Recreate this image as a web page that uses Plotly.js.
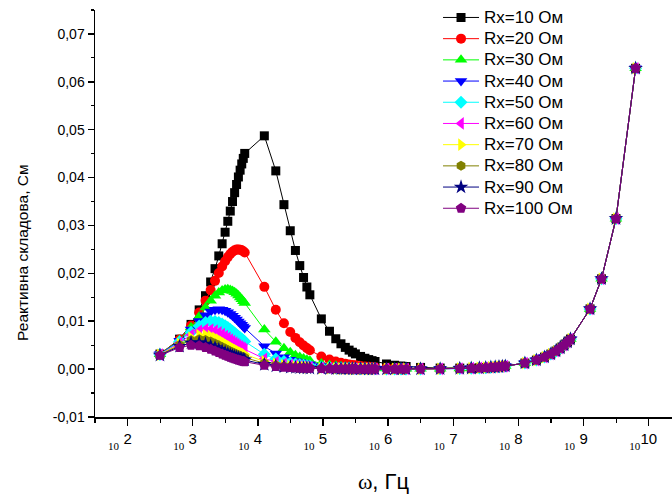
<!DOCTYPE html>
<html>
<head>
<meta charset="utf-8">
<script src="https://cdn.plot.ly/plotly-3.0.1.min.js"></script>
<style>html,body{margin:0;padding:0;background:#fff;}#chart{width:672px;height:494px;}</style>
</head>
<body>
<div id="chart"></div>
<script>
// angular frequency ω (rad/s) of every measured point, shared by all series
const omega = [314.2,628.3,942.5,1256.6,1570.8,1885.0,2199.1,2513.3,2827.4,3141.6,3455.8,3769.9,4084.1,4398.2,4712.4,5026.5,5340.7,5654.9,5969.0,6283.2,
  12566,18850,25133,31416,37699,43982,50265,56549,62832,
  94248,125664,157080,188496,219911,251327,282743,314159,376991,439823,502655,565487,628319,
  942478,1256637,1570796,1884956,3141593,6283185,1.2566e7,
  1.885e7,2.5133e7,3.1416e7,3.7699e7,4.3982e7,5.0265e7,5.6549e7,6.2832e7,
  1.2566e8,1.885e8,2.5133e8,3.1416e8,3.7699e8,4.3982e8,5.0265e8,5.6549e8,6.2832e8,
  1.2566e9,1.885e9,3.1416e9,6.2832e9];

// high-frequency part (ω ≥ 1.9e7), identical for every Rx within reading precision
const tailHF = [0.00019,0.00025,0.00031,0.00038,0.00044,0.00050,0.00057,0.00063,
  0.00126,0.00188,0.00251,0.00314,0.00377,0.00440,0.00503,0.00565,0.00628,
  0.01257,0.01885,0.03142,0.06283];

const y10 = [0.00314,0.00626,0.00934,0.01237,0.01533,0.01820,0.02098,0.02364,0.02618,0.02859,0.03087,0.03301,0.03500,0.03685,0.03856,0.04013,0.04155,0.04285,0.04401,0.04505,
  0.04872,0.04140,0.03435,0.02890,0.02478,0.02162,0.01914,0.01715,0.01552,
  0.01049,0.00791,0.00634,0.00529,0.00454,0.00397,0.00353,0.00318,0.00265,0.00227,0.00199,0.00177,0.00159,
  0.00107,0.00081,0.00065,0.00055,0.00035,0.00022,0.00021];
const y20 = [0.00313,0.00619,0.00910,0.01182,0.01430,0.01650,0.01843,0.02006,0.02142,0.02252,0.02339,0.02404,0.02450,0.02480,0.02496,0.02500,0.02495,0.02481,0.02461,0.02436,
  0.01718,0.01239,0.00957,0.00776,0.00652,0.00561,0.00493,0.00439,0.00395,
  0.00265,0.00199,0.00159,0.00133,0.00114,0.00099,0.00088,0.00080,0.00066,0.00057,0.00050,0.00044,0.00040,
  0.00028,0.00021,0.00017,0.00015,0.00011,0.00010,0.00015];
const y30 = [0.00311,0.00607,0.00873,0.01100,0.01285,0.01428,0.01532,0.01602,0.01644,0.01664,0.01666,0.01654,0.01633,0.01605,0.01572,0.01535,0.01497,0.01458,0.01419,0.01380,
  0.00826,0.00572,0.00434,0.00350,0.00292,0.00251,0.00220,0.00196,0.00176,
  0.00118,0.00088,0.00071,0.00059,0.00051,0.00044,0.00039,0.00035,0.00029,0.00025,0.00022,0.00020,0.00018,
  0.00013,0.00010,0.00009,0.00008,0.00007,0.00008,0.00013];
const y40 = [0.00309,0.00591,0.00825,0.01003,0.01126,0.01202,0.01240,0.01250,0.01241,0.01218,0.01187,0.01152,0.01113,0.01074,0.01035,0.00997,0.00960,0.00925,0.00891,0.00859,
  0.00478,0.00326,0.00246,0.00198,0.00165,0.00142,0.00124,0.00110,0.00099,
  0.00066,0.00050,0.00040,0.00033,0.00028,0.00025,0.00022,0.00020,0.00017,0.00014,0.00012,0.00011,0.00011,
  0.00008,0.00006,0.00006,0.00005,0.00005,0.00007,0.00013];
const y50 = [0.00307,0.00572,0.00771,0.00901,0.00972,0.00998,0.00996,0.00974,0.00943,0.00906,0.00867,0.00828,0.00790,0.00754,0.00719,0.00687,0.00657,0.00629,0.00602,0.00578,
  0.00310,0.00210,0.00158,0.00127,0.00106,0.00091,0.00079,0.00071,0.00064,
  0.00042,0.00032,0.00025,0.00021,0.00018,0.00016,0.00014,0.00013,0.00011,0.00009,0.00008,0.00008,0.00007,
  0.00005,0.00004,0.00004,0.00004,0.00004,0.00007,0.00013];
const y60 = [0.00303,0.00550,0.00714,0.00801,0.00832,0.00827,0.00802,0.00768,0.00729,0.00690,0.00652,0.00616,0.00583,0.00552,0.00524,0.00498,0.00474,0.00452,0.00432,0.00413,
  0.00217,0.00146,0.00110,0.00088,0.00074,0.00063,0.00055,0.00049,0.00044,
  0.00029,0.00022,0.00018,0.00015,0.00013,0.00011,0.00010,0.00009,0.00008,0.00007,0.00006,0.00005,0.00005,
  0.00004,0.00003,0.00003,0.00003,0.00004,0.00007,0.00013];
const y70 = [0.00300,0.00526,0.00657,0.00708,0.00711,0.00688,0.00653,0.00614,0.00575,0.00538,0.00504,0.00473,0.00445,0.00420,0.00397,0.00376,0.00357,0.00339,0.00323,0.00309,
  0.00160,0.00108,0.00081,0.00065,0.00054,0.00046,0.00041,0.00036,0.00032,
  0.00022,0.00016,0.00013,0.00011,0.00009,0.00008,0.00007,0.00007,0.00006,0.00005,0.00005,0.00004,0.00004,
  0.00003,0.00003,0.00003,0.00003,0.00004,0.00007,0.00013];
const y80 = [0.00296,0.00502,0.00601,0.00625,0.00609,0.00576,0.00537,0.00498,0.00462,0.00429,0.00400,0.00373,0.00350,0.00329,0.00310,0.00293,0.00277,0.00263,0.00251,0.00239,
  0.00123,0.00083,0.00062,0.00050,0.00041,0.00036,0.00031,0.00028,0.00025,
  0.00017,0.00012,0.00010,0.00008,0.00007,0.00006,0.00006,0.00005,0.00005,0.00004,0.00004,0.00003,0.00003,
  0.00003,0.00003,0.00003,0.00003,0.00004,0.00007,0.00013];
const y90 = [0.00291,0.00476,0.00548,0.00551,0.00524,0.00486,0.00447,0.00411,0.00378,0.00349,0.00324,0.00301,0.00281,0.00264,0.00248,0.00234,0.00222,0.00210,0.00200,0.00191,
  0.00097,0.00065,0.00049,0.00039,0.00033,0.00028,0.00025,0.00022,0.00020,
  0.00013,0.00010,0.00008,0.00007,0.00006,0.00005,0.00005,0.00004,0.00004,0.00003,0.00003,0.00003,0.00003,
  0.00002,0.00002,0.00002,0.00003,0.00004,0.00006,0.00013];
const y100 = [0.00286,0.00450,0.00499,0.00487,0.00453,0.00414,0.00377,0.00344,0.00314,0.00289,0.00267,0.00248,0.00231,0.00216,0.00203,0.00191,0.00181,0.00171,0.00163,0.00155,
  0.00079,0.00053,0.00040,0.00032,0.00027,0.00023,0.00020,0.00018,0.00016,
  0.00011,0.00008,0.00006,0.00005,0.00005,0.00004,0.00004,0.00003,0.00003,0.00003,0.00002,0.00002,0.00002,
  0.00002,0.00002,0.00002,0.00002,0.00003,0.00006,0.00013];

const seriesNames = ['Rx=10 Ом','Rx=20 Ом','Rx=30 Ом','Rx=40 Ом','Rx=50 Ом','Rx=60 Ом','Rx=70 Ом','Rx=80 Ом','Rx=90 Ом','Rx=100 Ом'];
const seriesLow = [y10,y20,y30,y40,y50,y60,y70,y80,y90,y100];

const xTickVals = [1e2,1e3,1e4,1e5,1e6,1e7,1e8,1e9,1e10];
const xTickExp = ['2','3','4','5','6','7','8','9','10'];
const xTickBase = ['10','10','10','10','10','10','10','10','10'];
const xMinorVals = [31.62,316.2,3162,31623,316228,3162278,31622777,316227766,3162277660];
const yTickVals = [-0.01,0,0.01,0.02,0.03,0.04,0.05,0.06,0.07];
const yTickText = ['-0,01','0,00','0,01','0,02','0,03','0,04','0,05','0,06','0,07'];
const yTitle = 'Реактивна складова, См';
const xTitle = '<span style="font-family:Liberation Serif">ω</span>, Гц';

const colors = ['#000000','#ff0000','#00ff00','#0000ff','#00ffff','#ff00ff','#ffff00','#808000','#000080','#800080'];
const symbols = ['square','circle','triangle-up','triangle-down','diamond','triangle-left','triangle-right','hexagon','star','pentagon'];
const sizes = [9,10,11,11,10,11,11,10,11,11];

const traces = seriesLow.map((ys, i) => ({
  type: 'scatter',
  mode: 'lines+markers',
  name: '<span style="font-size:17px">' + seriesNames[i] + '</span>',
  x: omega,
  y: ys.concat(tailHF),
  line: {color: colors[i], width: 1},
  marker: {symbol: symbols[i], color: colors[i], size: sizes[i], line: {width: 0}}
}));
// empty helper trace so the overlaid axis carrying the "10" bases of the tick labels is drawn
traces.push({type: 'scatter', mode: 'markers', x: [], y: [], xaxis: 'x2', yaxis: 'y', showlegend: false, hoverinfo: 'skip'});

const xRange = [1.5, 10.357];

const layout = {
  width: 672, height: 494,
  margin: {l: 95, r: 0, t: 10, b: 76.5},
  paper_bgcolor: '#fff', plot_bgcolor: '#fff',
  font: {family: 'Liberation Sans, Arial, sans-serif', color: '#000', size: 14},
  showlegend: true,
  legend: {x: 0.5945, y: 1.02, xanchor: 'left', yanchor: 'top', bgcolor: 'rgba(0,0,0,0)',
           itemwidth: 36,
           font: {size: 14, family: 'Liberation Sans, Arial, sans-serif'}, tracegroupgap: 0},
  xaxis: {
    type: 'log', range: xRange, showgrid: false, zeroline: false,
    showline: true, linecolor: '#000', linewidth: 1.5,
    ticks: 'outside', ticklen: 7, tickwidth: 1.5, tickcolor: '#000',
    tickmode: 'array', tickvals: xTickVals, ticktext: xTickExp,
    tickfont: {size: 15, family: 'Liberation Sans, Arial, sans-serif'},
    ticklabelshift: 1.5,
    minor: {tickmode: 'array', tickvals: xMinorVals, ticks: 'outside', ticklen: 4, tickwidth: 1.2, tickcolor: '#000', showgrid: false},
    title: {text: xTitle, font: {size: 22}, standoff: 28}
  },
  xaxis2: {
    type: 'log', range: xRange, overlaying: 'x', anchor: 'y', side: 'bottom',
    showgrid: false, zeroline: false, showline: false,
    ticks: 'outside', ticklen: 7, tickcolor: 'rgba(0,0,0,0)',
    tickmode: 'array', tickvals: xTickVals, ticktext: xTickBase,
    tickfont: {size: 11, family: 'Liberation Serif, Times New Roman, serif'},
    ticklabelshift: -14, ticklabelstandoff: 12
  },
  yaxis: {
    range: [-0.01, 0.075], showgrid: false, zeroline: false,
    showline: true, linecolor: '#000', linewidth: 1.5,
    ticks: 'outside', ticklen: 6, tickwidth: 1.5, tickcolor: '#000',
    tickmode: 'array', tickvals: yTickVals, ticktext: yTickText,
    tickfont: {size: 14},
    minor: {dtick: 0.005, tick0: 0, ticks: 'outside', ticklen: 3, tickwidth: 1.2, tickcolor: '#000', showgrid: false}
  },
  annotations: [{
    text: yTitle, textangle: -90, showarrow: false,
    xref: 'paper', yref: 'paper', x: -0.127, y: 0.405, xanchor: 'center', yanchor: 'middle',
    font: {size: 15.5, family: 'Liberation Sans, Arial, sans-serif', color: '#000'}
  }]
};

Plotly.newPlot('chart', traces, layout, {displayModeBar: false, staticPlot: true});
</script>
</body>
</html>
